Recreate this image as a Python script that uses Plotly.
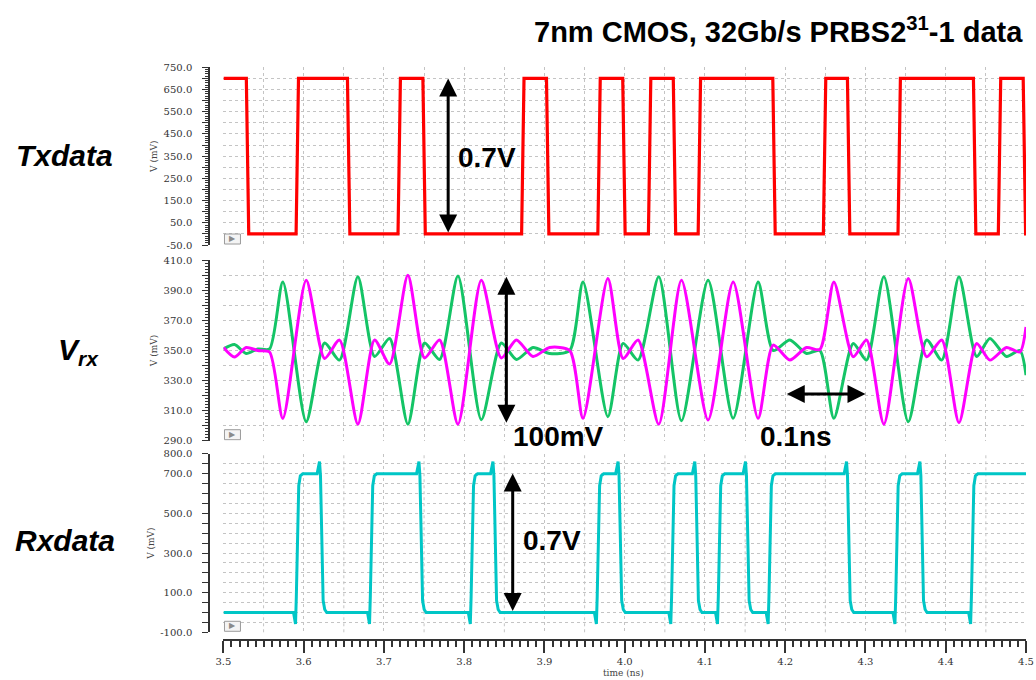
import plotly.graph_objects as go

# ---------------- data ----------------
# Txdata: edge times (ns), starting high
tx_edges = [3.530, 3.592, 3.656, 3.719, 3.750, 3.873, 3.904, 3.968, 3.999,
            4.031, 4.062, 4.093, 4.186, 4.249, 4.279, 4.342, 4.436, 4.467, 4.498]
tx_levels = [700, 0]  # high, low (mV)

# Vrx: differential pair key points (ns, mV)
vrx_t = [3.500, 3.5137, 3.5283, 3.5428, 3.5574, 3.574, 3.6031, 3.626, 3.6446, 3.6675,
         3.6883, 3.707, 3.7298, 3.7506, 3.7693, 3.7922, 3.8213, 3.8462, 3.865, 3.8857,
         3.9065, 3.9314, 3.948, 3.979, 3.998, 4.0166, 4.0424, 4.0707, 4.1039, 4.1351,
         4.1662, 4.185, 4.2057, 4.2265, 4.2431, 4.2606, 4.2847, 4.3013, 4.3229, 4.3533,
         4.3762, 4.395, 4.4165, 4.4385, 4.455, 4.4757, 4.4924, 4.500]
vrx_p = [351, 354, 348, 351, 351, 395.6, 302.6, 355, 343.6, 399,
         346, 358, 301, 355, 344, 399.6, 304, 355, 344, 352,
         348, 350, 395.6, 306, 354.7, 343.6, 399, 303.3, 396.7, 304.9,
         395.6, 350, 357, 348, 350, 304.9, 354.7, 343.6, 399, 302.6,
         357, 343.6, 399, 346, 358, 346, 350, 333.6]
vrx_n = [352, 345.6, 352, 350, 349, 304.8, 396.7, 344.7, 356.9, 301,
         357, 341, 400, 345, 357, 301, 396.7, 345, 357, 346,
         352, 350, 305, 397.8, 344.7, 357, 301, 396.7, 303.8, 395.6,
         304.9, 353.6, 343.6, 352, 350.7, 395.6, 345.8, 357, 301, 397.8,
         345.8, 357, 302, 354.7, 343.6, 352, 349, 365.7]

# Rxdata: rising-edge (undershoot) times and falling-edge (overshoot) times
rx_rise = [3.5898, 3.682, 3.8076, 3.9647, 4.0574, 4.1156, 4.1787, 4.3367, 4.431]
rx_fall = [3.6197, 3.7436, 3.8358, 3.9917, 4.0873, 4.1505, 4.2764, 4.3678]
# edge shapes (offset ns, mV)
rx_rise_dt = [-0.0025, 0.0, 0.001, 0.004, 0.006, 0.009]
rx_rise_v = [0, -58, 80, 640, 690, 700]
rx_fall_dt = [-0.003, 0.0, 0.0012, 0.0045, 0.0065, 0.009]
rx_fall_v = [700, 762, 690, 60, 15, 0]

# axis ticks
x_ticks = [3.5, 3.6, 3.7, 3.8, 3.9, 4.0, 4.1, 4.2, 4.3, 4.4, 4.5]
tx_tickvals = list(range(-50, 751, 50))
tx_labeled = [-50, 50, 150, 250, 350, 450, 550, 650, 750]
vrx_tickvals = list(range(290, 411, 10))
vrx_labeled = [290, 310, 330, 350, 370, 390, 410]
rx_tickvals = list(range(-100, 801, 50))
rx_labeled = [-100, 100, 300, 500, 700, 800]
xgrid_mid = [3.55, 3.65, 3.75, 3.85, 3.95, 4.05, 4.15, 4.25, 4.35, 4.45]

# ---------------- build waveforms ----------------
tx_t, tx_v = [3.5], [tx_levels[0]]
lvl = 0
for e in tx_edges:
    tx_t += [e - 0.0015, e + 0.0015]
    tx_v += [tx_levels[lvl], tx_levels[1 - lvl]]
    lvl = 1 - lvl
tx_t.append(4.5)
tx_v.append(tx_levels[lvl])

rx_t, rx_v = [3.5], [0]
events = sorted([(t, 'r') for t in rx_rise] + [(t, 'f') for t in rx_fall])
for t, k in events:
    dts, vs = (rx_rise_dt, rx_rise_v) if k == 'r' else (rx_fall_dt, rx_fall_v)
    rx_t += [t + d for d in dts]
    rx_v += vs
rx_t.append(4.5)
rx_v.append(700)

# ---------------- figure ----------------
fig = go.Figure()
fig.add_trace(go.Scatter(x=tx_t, y=tx_v, mode='lines', line=dict(color='#ff0000', width=3.2),
                         xaxis='x', yaxis='y', hoverinfo='skip'))
fig.add_trace(go.Scatter(x=vrx_t, y=vrx_p, mode='lines',
                         line=dict(color='#14c466', width=3, shape='spline', smoothing=0.7),
                         xaxis='x2', yaxis='y2', hoverinfo='skip'))
fig.add_trace(go.Scatter(x=vrx_t, y=vrx_n, mode='lines',
                         line=dict(color='#ff00ff', width=3, shape='spline', smoothing=0.7),
                         xaxis='x2', yaxis='y2', hoverinfo='skip'))
fig.add_trace(go.Scatter(x=rx_t, y=rx_v, mode='lines', line=dict(color='#00c6c6', width=3),
                         xaxis='x3', yaxis='y3', hoverinfo='skip'))

XDOM = [0.0177, 1.0]
GRID = '#c4c4c4'
AXC = '#333333'
tickfont = dict(family='DejaVu Serif', size=10, color='#333333')
titlefont = dict(family='DejaVu Serif', size=9, color='#444444')


def fmt(v, labeled):
    return f"{v:.1f}" if v in labeled else ' '


def yax(dom, rng, tv, lab, minor_dt):
    d = dict(domain=dom, range=rng, anchor='free', position=0, automargin=False,
             tickvals=tv, ticktext=[fmt(v, lab) for v in tv],
             ticks='outside', ticklen=6, tickcolor=AXC, tickwidth=1,
             ticklabelstandoff=8,
             showline=True, linecolor=AXC, linewidth=1.5,
             showgrid=True, gridcolor=GRID, griddash='dot', gridwidth=1,
             zeroline=False, tickfont=tickfont,
             title=dict(text='V (mV)', font=titlefont, standoff=3))
    if minor_dt:
        d['minor'] = dict(dtick=minor_dt, tick0=rng[0], ticklen=3, ticks='outside',
                          tickcolor=AXC, showgrid=False)
    return d


def xgrid(anchor):
    return dict(domain=XDOM, range=[3.5, 4.5], anchor=anchor, showticklabels=False,
                automargin=False,
                ticks='', tick0=3.5, dtick=0.05, showgrid=True, gridcolor=GRID,
                griddash='dot', zeroline=False, showline=False)


fig.update_layout(
    width=1036, height=680,
    margin=dict(l=209, r=10, t=60, b=40, autoexpand=False),
    paper_bgcolor='white', plot_bgcolor='white',
    showlegend=False,
    xaxis=xgrid('y'),
    xaxis2=xgrid('y2'),
    xaxis3=dict(domain=XDOM, range=[3.5, 4.5], anchor='free', position=0, automargin=False,
                tickvals=x_ticks, ticktext=[f"{v:.1f}" for v in x_ticks],
                ticks='outside', ticklen=12, tickcolor=AXC, tickwidth=1.5,
                ticklabeloverflow='allow',
                showline=True, linecolor=AXC, linewidth=1.5,
                showgrid=True, gridcolor=GRID, griddash='dot', zeroline=False,
                tickfont=tickfont,
                minor=dict(dtick=0.01, tick0=3.5, ticklen=6, ticks='outside',
                           tickcolor=AXC, tickwidth=1.5, showgrid=False)),
    yaxis=yax([0.681, 0.9874], [-50, 750], tx_tickvals, tx_labeled, 10),
    yaxis2=yax([0.3436, 0.6547], [290, 410], vrx_tickvals, vrx_labeled, 2),
    yaxis3=yax([0.0133, 0.3207], [-100, 800], rx_tickvals, rx_labeled, None),
)

shapes = []
for gx in xgrid_mid:
    shapes.append(dict(type='line', xref='x3', yref='y3 domain', x0=gx, x1=gx, y0=0, y1=1,
                       line=dict(color=GRID, width=1, dash='dot'), layer='below'))
# small "play" boxes at lower-left of each panel
for xr, yr, y0 in [('x', 'y', -50), ('x2', 'y2', 290), ('x3', 'y3', -100)]:
    shapes.append(dict(type='rect', xref=xr, yref=yr, xsizemode='pixel', ysizemode='pixel',
                       xanchor=3.5, yanchor=y0, x0=1, x1=17, y0=1, y1=11,
                       line=dict(color='#9a9a9a', width=1), fillcolor='#f4f4f4'))
fig.update_layout(shapes=shapes)

ann = []
for xr, yr, y0 in [('x', 'y', -50), ('x2', 'y2', 290), ('x3', 'y3', -100)]:
    ann.append(dict(x=3.5, y=y0, xref=xr, yref=yr, text='▶', showarrow=False,
                    xanchor='left', yanchor='bottom', xshift=4, yshift=0,
                    font=dict(family='DejaVu Sans', size=8, color='#8a8a8a')))

arrow = dict(showarrow=True, arrowhead=2, arrowsize=1.2, arrowwidth=3,
             arrowcolor='black', arrowside='end+start', text='')
ann.append(dict(x=3.78, y=700, ax=3.78, ay=0, xref='x', yref='y', axref='x', ayref='y', **arrow))
ann.append(dict(x=3.8525, y=399, ax=3.8525, ay=301, xref='x2', yref='y2', axref='x2', ayref='y2', **arrow))
ann.append(dict(x=4.3, y=321, ax=4.2, ay=321, xref='x2', yref='y2', axref='x2', ayref='y2', **arrow))
ann.append(dict(x=3.8604, y=702, ax=3.8604, ay=0, xref='x3', yref='y3', axref='x3', ayref='y3', **arrow))

bold = dict(family='Liberation Sans', size=28, color='black')
ann.append(dict(x=3.828, y=346, xref='x', yref='y', text='<b>0.7V</b>', showarrow=False, font=bold))
ann.append(dict(x=3.9177, y=292.6, xref='x2', yref='y2', text='<b>100mV</b>', showarrow=False, font=bold))
ann.append(dict(x=4.214, y=292.6, xref='x2', yref='y2', text='<b>0.1ns</b>', showarrow=False, font=bold))
ann.append(dict(x=3.9096, y=365, xref='x3', yref='y3', text='<b>0.7V</b>', showarrow=False, font=bold))

side = dict(family='Liberation Sans', size=30, color='black')
ann.append(dict(x=-0.1763, y=0.8345, xref='paper', yref='paper', text='<b><i>Txdata</i></b>',
                xanchor='center', yanchor='middle', showarrow=False, font=side))
ann.append(dict(x=-0.1603, y=0.4966, xref='paper', yref='paper', text='<b><i>V<sub>rx</sub></i></b>',
                xanchor='center', yanchor='middle', showarrow=False, font=side))
ann.append(dict(x=-0.1763, y=0.1707, xref='paper', yref='paper', text='<b><i>Rxdata</i></b>',
                xanchor='center', yanchor='middle', showarrow=False, font=side))

ann.append(dict(x=0.9988, y=1.0517, xref='paper', yref='paper', xanchor='right', yanchor='middle',
                text='<b>7nm CMOS, 32Gb/s PRBS2<sup>31</sup>-1 data</b>', showarrow=False,
                font=dict(family='Liberation Sans', size=29, color='black')))
ann.append(dict(x=0.507, y=-0.0565, xref='paper', yref='paper', text='time (ns)', showarrow=False,
                xanchor='center', yanchor='middle',
                font=dict(family='DejaVu Serif', size=9, color='#444444')))
fig.update_layout(annotations=ann)

# remove the default page margin so the 1036x680 figure fills the window exactly
fig.write_html("out.html",
               config={'displayModeBar': False},
               post_script="document.body.style.margin='0';document.body.style.overflow='hidden';")
